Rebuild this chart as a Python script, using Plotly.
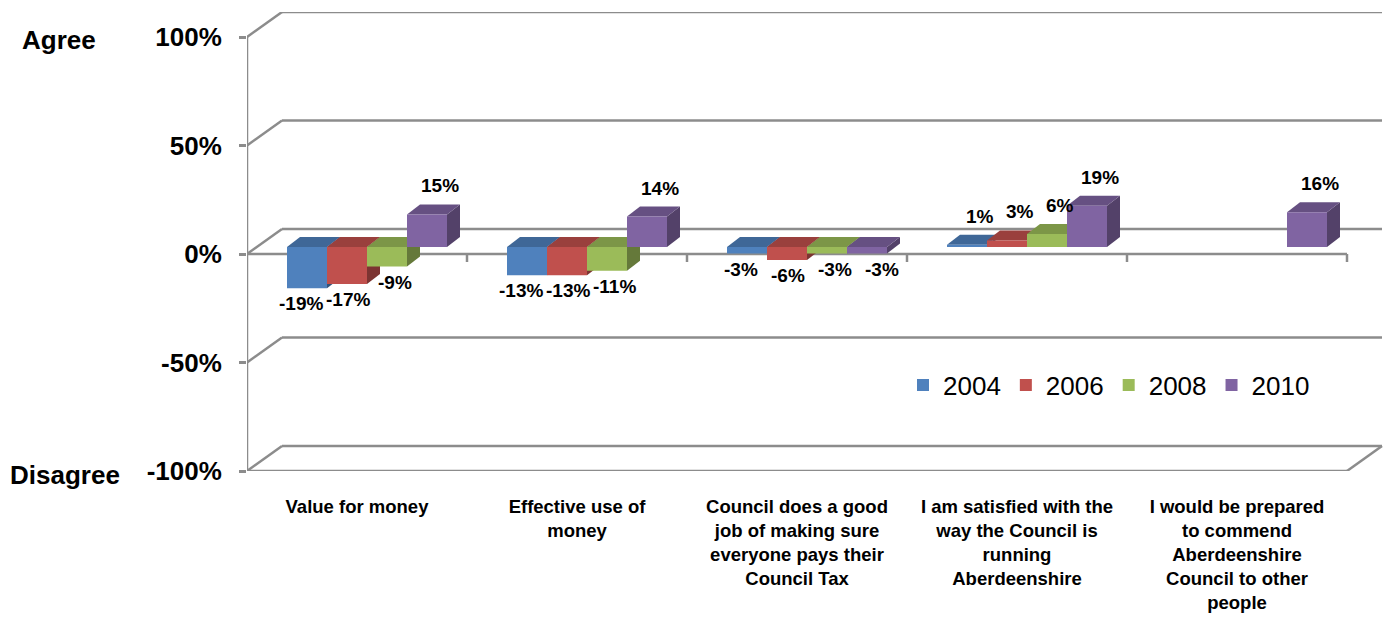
import plotly.graph_objects as go

# ---- data -------------------------------------------------------------
categories = [
    "Value for money",
    "Effective use of<br>money",
    "Council does a good<br>job of making sure<br>everyone pays their<br>Council Tax",
    "I am satisfied with the<br>way the Council is<br>running<br>Aberdeenshire",
    "I would be prepared<br>to commend<br>Aberdeenshire<br>Council to other<br>people",
]
years = ["2004", "2006", "2008", "2010"]
v2004 = [-19, -13, -3, 1, None]
v2006 = [-17, -13, -6, 3, None]
v2008 = [-9, -11, -3, 6, None]
v2010 = [15, 14, -3, 19, 16]
y_tick_vals = [-100, -50, 0, 50, 100]
y_tick_text = ["-100%", "-50%", "0%", "50%", "100%"]

series = [v2004, v2006, v2008, v2010]

# ---- styling ----------------------------------------------------------
FONT = "Liberation Sans, Arial, sans-serif"
front_col = ["#4F81BD", "#C0504D", "#9BBB59", "#8064A2"]
top_col = ["#3F6797", "#9A403D", "#7C9647", "#665082"]
side_col = ["#32527A", "#7C3432", "#65793A", "#534169"]
LINE_COL = "#8C8C8C"

W, H = 1385, 619
ML, MR, MT, MB = 247, 0, 12, 148
plot_w = W - ML - MR
plot_h = H - MT - MB

PX_CAT = 220.0   # pixels per category slot on the front plane
PX_PCT = 2.17    # pixels per percentage point


def ux(px):
    return px / PX_CAT


def uy(px):
    return px / PX_PCT


x_range = [-0.5, -0.5 + plot_w / PX_CAT]
y_range = [-100, -100 + plot_h / PX_PCT]

# pseudo-3D offsets (right / up)
wall_dx, wall_dy = ux(35), uy(25)     # back wall
plane_dx, plane_dy = ux(10), uy(7)    # front face of the columns
depth_dx, depth_dy = ux(13), uy(10)   # column depth
bar_w = ux(40)
neg_label_step = ux(47)               # spread of the labels under negative columns
neg_label_shift = ux(4)

n_cat = len(categories)
shapes = []


def seg(x0, y0, x1, y1):
    shapes.append(dict(type="line", xref="x", yref="y", x0=x0, y0=y0, x1=x1, y1=y1,
                       line=dict(color=LINE_COL, width=2.5), layer="below"))


def poly(pts, color):
    path = "M " + " L ".join(f"{px},{py}" for px, py in pts) + " Z"
    shapes.append(dict(type="path", xref="x", yref="y", path=path,
                       fillcolor=color, line=dict(width=0), layer="below"))


# walls: side-wall diagonals and back-wall gridlines
left, right = -0.5, n_cat - 0.5
for v in y_tick_vals:
    seg(left, v, left + wall_dx, v + wall_dy)
    seg(left + wall_dx, v + wall_dy, right + wall_dx, v + wall_dy)
# front vertical axis, floor edge, and category axis at 0
seg(left, y_tick_vals[0], left, y_tick_vals[-1])
seg(left, -100, right, -100)
seg(right, -100, right + wall_dx, -100 + wall_dy)
seg(left, 0, right, 0)
for i in range(n_cat):
    seg(i + 0.5, 0, i + 0.5, -uy(8))


def bar_center(i, k):
    return i + (k - 1.5) * bar_w + plane_dx


# column side faces, then top faces
for face in ("side", "top"):
    for k, vals in enumerate(series):
        for i, v in enumerate(vals):
            if v is None:
                continue
            xc = bar_center(i, k)
            xl, xr = xc - bar_w / 2, xc + bar_w / 2
            y0, y1 = plane_dy, plane_dy + v
            if face == "side":
                poly([(xr, y0), (xr, y1), (xr + depth_dx, y1 + depth_dy),
                      (xr + depth_dx, y0 + depth_dy)], side_col[k])
            else:
                yt = max(y0, y1)
                poly([(xl, yt), (xr, yt), (xr + depth_dx, yt + depth_dy),
                      (xl + depth_dx, yt + depth_dy)], top_col[k])

fig = go.Figure()
annotations = []
label_font = dict(family=FONT, size=19, color="black", weight="bold")
for k, vals in enumerate(series):
    xs = [bar_center(i, k) for i in range(n_cat)]
    fig.add_trace(go.Bar(
        x=xs, y=vals, base=plane_dy, width=bar_w, name=years[k],
        marker=dict(color=front_col[k], line=dict(width=0)),
        hovertemplate=years[k] + ": %{y}%<extra></extra>",
    ))
    for i, v in enumerate(vals):
        if v is None:
            continue
        if v >= 0:
            annotations.append(dict(
                x=xs[i] + depth_dx, y=plane_dy + v + depth_dy, xref="x", yref="y",
                text=f"{v}%", showarrow=False, yanchor="bottom", yshift=6,
                font=label_font))
        else:
            group_center = i + plane_dx
            annotations.append(dict(
                x=group_center + (k - 1.5) * neg_label_step + neg_label_shift,
                y=plane_dy + v, xref="x", yref="y",
                text=f"{v}%", showarrow=False, yanchor="top", yshift=-3,
                font=label_font))

annotations.append(dict(
    x=(20 - ML) / plot_w, xref="paper", xanchor="left", y=100, yref="y",
    yanchor="middle", yshift=-3, text="Agree", showarrow=False,
    font=dict(family=FONT, size=26, color="black", weight="bold")))
annotations.append(dict(
    x=(8 - ML) / plot_w, xref="paper", xanchor="left", y=-100, yref="y",
    yanchor="middle", yshift=-4, text="Disagree", showarrow=False,
    font=dict(family=FONT, size=26, color="black", weight="bold")))

fig.update_layout(
    width=W, height=H,
    margin=dict(l=ML, r=MR, t=MT, b=MB, pad=0),
    paper_bgcolor="white", plot_bgcolor="white",
    barmode="overlay",
    showlegend=True,
    legend=dict(orientation="h", x=(903 - ML) / plot_w, y=(H - MB - 385) / plot_h,
                xanchor="left", yanchor="middle", bgcolor="rgba(0,0,0,0)",
                font=dict(family=FONT, size=26, color="black")),
    shapes=shapes,
    annotations=annotations,
    xaxis=dict(range=x_range, tickvals=list(range(n_cat)), ticktext=categories,
               tickangle=0, ticks="", showline=False, showgrid=False, zeroline=False,
               ticklabelstandoff=22,
               tickfont=dict(family=FONT, size=18.5, color="black", weight="bold"),
               fixedrange=True),
    yaxis=dict(range=y_range, tickvals=y_tick_vals, ticktext=y_tick_text,
               ticks="outside", ticklen=7, tickwidth=2.5, tickcolor=LINE_COL,
               showline=False, showgrid=False, zeroline=False,
               ticklabelstandoff=12,
               tickfont=dict(family=FONT, size=26, color="black", weight="bold"),
               fixedrange=True),
)

fig.write_html("out.html")
